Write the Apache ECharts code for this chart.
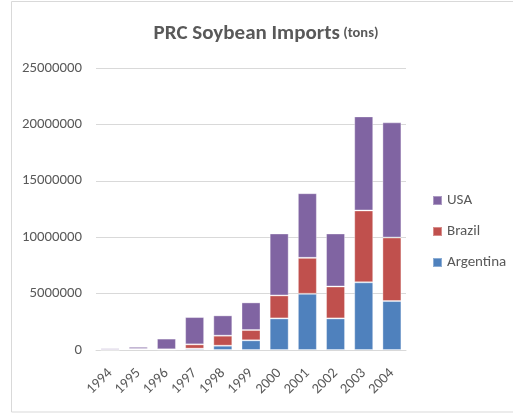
<!DOCTYPE html>
<html>
<head>
<meta charset="utf-8">
<style>
  html, body { margin: 0; padding: 0; background: #fff; }
  #chart { width: 513px; height: 414px; }
</style>
<script src="https://cdn.jsdelivr.net/npm/echarts@6/dist/echarts.min.js"></script>
</head>
<body>
<div id="chart"></div>
<script>
// PRC soybean imports by origin, tons
const years = ['1994', '1995', '1996', '1997', '1998', '1999', '2000', '2001', '2002', '2003', '2004'];
const argentina = [20000, 90000, 60000, 120000, 380000, 860000, 2800000, 4980000, 2800000, 6000000, 4340000];
const brazil = [0, 0, 0, 380000, 890000, 910000, 2040000, 3190000, 2830000, 6370000, 5630000];
const usa = [130000, 190000, 950000, 2420000, 1800000, 2450000, 5490000, 5730000, 4700000, 8340000, 10210000];
const yTicks = [0, 5000000, 10000000, 15000000, 20000000, 25000000];

const FONT = 'Carlito, Lato, "Open Sans", sans-serif';
const TEXT = '#595959';

const chart = echarts.init(document.getElementById('chart'));

const barStyle = (color) => ({
  color: color,
  borderColor: 'rgba(255,255,255,0.35)',
  borderWidth: 1
});

chart.setOption({
  animation: false,
  textStyle: { fontFamily: FONT },
  title: {
    text: '{a|PRC Soybean Imports}{b| (tons)}',
    left: 261,
    top: 18,
    textAlign: 'center',
    textStyle: {
      rich: {
        a: { fontFamily: FONT, fontSize: 21, fontWeight: 'bold', color: TEXT },
        b: { fontFamily: FONT, fontSize: 14.5, fontWeight: 'bold', color: TEXT }
      }
    }
  },
  graphic: [{
    type: 'rect',
    shape: { x: 11.5, y: 1.5, width: 520, height: 410.5 },
    style: { fill: 'none', stroke: '#d9d9d9', lineWidth: 1 },
    silent: true,
    z: -1
  }],
  legend: {
    orient: 'vertical',
    left: 427,
    top: 188,
    itemWidth: 9,
    itemHeight: 9,
    itemGap: 16,
    icon: 'rect',
    data: ['USA', 'Brazil', 'Argentina'],
    textStyle: { fontFamily: FONT, fontSize: 15, color: TEXT }
  },
  grid: { left: 96, right: 107, top: 68, bottom: 64, containLabel: false },
  xAxis: {
    type: 'category',
    data: years,
    axisLine: { lineStyle: { color: '#d9d9d9', width: 1 } },
    axisTick: { show: false },
    axisLabel: { rotate: 45, color: TEXT, fontSize: 14.5, fontFamily: FONT, margin: 21 }
  },
  yAxis: {
    type: 'value',
    min: yTicks[0],
    max: yTicks[yTicks.length - 1],
    interval: yTicks[1] - yTicks[0],
    axisLine: { show: false },
    axisTick: { show: false },
    splitLine: { lineStyle: { color: '#d9d9d9', width: 1 } },
    axisLabel: {
      color: TEXT, fontSize: 14.8, fontFamily: FONT, margin: 14,
      formatter: (v) => String(v)
    }
  },
  series: [
    { name: 'Argentina', type: 'bar', stack: 'total', barWidth: 19, data: argentina, itemStyle: barStyle('#4F81BD') },
    { name: 'Brazil', type: 'bar', stack: 'total', barWidth: 19, data: brazil, itemStyle: barStyle('#C0504D') },
    { name: 'USA', type: 'bar', stack: 'total', barWidth: 19, data: usa, itemStyle: barStyle('#8064A2') }
  ]
});
</script>
</body>
</html>
